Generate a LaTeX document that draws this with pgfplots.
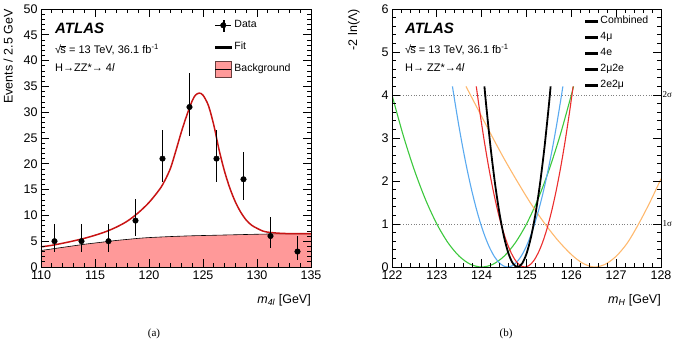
\documentclass[border=0pt]{standalone}
\usepackage{fontspec}
\setmainfont{Liberation Sans}
\newfontfamily\serif{Liberation Serif}
\usepackage{pgfplots}
\pgfplotsset{compat=1.18}
\definecolor{bkg}{RGB}{255,153,153}
\definecolor{fitred}{RGB}{200,20,20}
\definecolor{cblue}{RGB}{90,170,240}
\definecolor{cgreen}{RGB}{60,200,60}
\definecolor{corange}{RGB}{255,185,110}
\definecolor{cred}{RGB}{235,45,45}
\pgfplotsset{atlas/.style={
  scale only axis, anchor=south west,
  tick align=inside, major tick length=8pt, minor tick length=4pt,
  every tick/.append style={black, line width=0.7pt},
  axis line style={line width=0.9pt},
  tick label style={font=\fontsize{12.5}{14}\selectfont},
  /pgf/number format/assume math mode=true,
  label style={font=\fontsize{12.5}{14}\selectfont, inner sep=0pt},
  axis on top, clip mode=individual,
  legend cell align=left,
}}
\begin{document}
\begin{tikzpicture}
\path[use as bounding box] (0pt,0pt) rectangle (673pt,343pt);
% ---------------- (a) ----------------
\begin{axis}[atlas, at={(41pt,76pt)}, width=270pt, height=258pt,
  xmin=110, xmax=135, ymin=0, ymax=50,
  xtick={110,115,...,135}, ytick={0,5,...,50},
  minor x tick num=4, minor y tick num=4,
  xlabel={\textit{m}\textsubscript{\textit{4l}} [GeV]},
  ylabel={Events / 2.5 GeV},
  xlabel style={at={(rel axis cs:1,-0.105)}, anchor=north east},
  ylabel style={at={(rel axis cs:-0.104,1)}, anchor=south east},
  legend style={at={(rel axis cs:0.644,0.957)}, anchor=north west, draw=none, fill=none,
    font=\fontsize{10.5}{12}\selectfont, row sep=12pt, column sep=3pt, inner sep=0pt,
    nodes={inner sep=0pt, text height=7.5pt, text depth=2.5pt}},
]
\addplot[fill=bkg, draw=none, forget plot] coordinates {
(110,3.2) (111,3.5) (112,3.8) (113,4.1) (114,4.4) (115,4.65) (116,4.9) (117,5.15)
(118,5.35) (119,5.55) (120,5.7) (122,5.9) (124,6.05) (126,6.15) (128,6.25)
(130,6.35) (132,6.42) (135,6.45)} \closedcycle;
\addplot[black, line width=0.6pt, smooth, forget plot] coordinates {
(110,3.2) (111,3.5) (112,3.8) (113,4.1) (114,4.4) (115,4.65) (116,4.9) (117,5.15)
(118,5.35) (119,5.55) (120,5.7) (122,5.9) (124,6.05) (126,6.15) (128,6.25)
(130,6.35) (132,6.42) (135,6.45)};
\addplot[fitred, line width=1.5pt, smooth, forget plot] coordinates {
(110,3.9) (111,4.2) (112,4.6) (113,5.05) (114,5.55) (115,6.15) (116,6.85) (117,7.75)
(118,8.9) (119,10.5) (120,12.5) (121,15.1) (121.5,16.9) (122,19.2) (122.5,22.6)
(123,26.2) (123.5,29.4) (124,32.2) (124.3,33.3) (124.65,33.7) (125,33.3) (125.5,31.3)
(126,27.5) (126.5,22.6) (127,18.5) (127.5,15.2) (128,12.6) (128.5,10.6) (129,9.1)
(129.5,8.1) (130,7.5) (130.5,7.0) (131,6.75) (132,6.55) (133,6.47) (134,6.45) (135,6.45)};
\addplot[black, only marks, mark=*, mark size=2.8pt, forget plot,
  error bars/.cd, y dir=both, y explicit, error mark=none,
  error bar style={line width=1.1pt}] coordinates {
(111.25,5) += (0,3.38) -= (0,2.16)
(113.75,5) += (0,3.38) -= (0,2.16)
(116.25,5) += (0,3.38) -= (0,2.16)
(118.75,9) += (0,4.11) -= (0,2.94)
(121.25,21) += (0,5.62) -= (0,4.55)
(123.75,31) += (0,6.6) -= (0,5.54)
(126.25,21) += (0,5.62) -= (0,4.55)
(128.75,17) += (0,5.2) -= (0,4.1)
(131.25,6) += (0,3.62) -= (0,2.38)
(133.75,3) += (0,2.92) -= (0,1.63)};
\addlegendimage{legend image code/.code={
  \fill[overlay, fill=black] (7.45pt,-5.5pt) rectangle (8.55pt,5.5pt);
  \fill[overlay, fill=black] (8pt,0pt) circle (2.8pt);
  \path (0pt,0pt) -- (16pt,0pt);}}
\addlegendentry{Data}
\addlegendimage{legend image code/.code={
  \fill[overlay, fill=fitred] (0pt,-0.75pt) rectangle (16pt,0.75pt);
  \path (0pt,0pt) -- (16pt,0pt);}}
\addlegendentry{Fit}
\addlegendimage{legend image code/.code={
  \draw[overlay, fill=bkg, draw=black!60!bkg, line width=0.8pt] (0pt,-8pt) rectangle (16pt,8pt);
  \path (0pt,0pt) -- (16pt,0pt);}}
\addlegendentry{Background}
\node[anchor=west, inner sep=0pt, font=\bfseries\itshape\fontsize{15}{17}\selectfont] at (rel axis cs:0.052,0.926) {ATLAS};
\node[anchor=west, inner sep=0pt, font=\fontsize{11}{13}\selectfont] at (rel axis cs:0.052,0.841) {√\kern-0.8pt$\overline{\mbox{s}}$ = 13 TeV, 36.1 fb\textsuperscript{-1}};
\node[anchor=west, inner sep=0pt, font=\fontsize{11}{13}\selectfont] at (rel axis cs:0.052,0.775) {H→ZZ*→ 4\textit{l}};
\end{axis}
% ---------------- (b) ----------------
\begin{axis}[atlas, at={(392pt,76pt)}, width=269pt, height=258pt,
  xmin=122, xmax=128, ymin=0, ymax=6,
  xtick={122,...,128}, ytick={0,...,6},
  minor x tick num=4, minor y tick num=4,
  xlabel={\textit{m}\textsubscript{\textit{H}} [GeV]},
  ylabel={-2 ln(Λ)},
  xlabel style={at={(rel axis cs:1,-0.105)}, anchor=north east},
  ylabel style={at={(rel axis cs:-0.119,1)}, anchor=south east},
  legend style={at={(rel axis cs:0.717,0.973)}, anchor=north west, draw=none, fill=none,
    font=\fontsize{10.5}{12}\selectfont, row sep=6pt, column sep=3pt, inner sep=0pt,
    nodes={inner sep=0pt, text height=7.5pt, text depth=2.5pt}},
]
\addplot[gray, dotted, line width=0.7pt, forget plot] coordinates {(122,1) (128,1)};
\addplot[gray, dotted, line width=0.7pt, forget plot] coordinates {(122,4) (128,4)};
% 4e
\addplot[cgreen, line width=1.1pt, smooth, forget plot] coordinates {
(122,4) (122.25,3.0625) (122.5,2.25) (122.75,1.5625) (123,1) (123.25,0.5625) (123.5,0.25)
(123.75,0.0625) (124,0) (124.25,0.0625) (124.5,0.25) (124.75,0.5625) (125,1)
(125.25,1.5625) (125.5,2.25) (125.75,3.0625) (126,4) (126.049,4.2)};
% 2mu2e
\addplot[corange, line width=1.1pt, smooth, forget plot] coordinates {
(123.65,4.2) (123.9,3.70) (124.2,3.10) (124.5,2.52) (124.8,1.98) (125.1,1.47) (125.4,1.02)
(125.7,0.62) (126.0,0.29) (126.25,0.09) (126.5,0) (126.75,0.06) (127,0.25) (127.25,0.56)
(127.5,1.0) (127.75,1.5) (128,2.05)};
% 4mu
\addplot[cblue, line width=1.1pt, smooth, forget plot] coordinates {
(123.349,4.2) (123.38,3.989) (123.48,3.352) (123.58,2.77) (123.68,2.244) (123.78,1.773)
(123.88,1.357) (123.98,0.997) (124.08,0.693) (124.18,0.443) (124.28,0.249) (124.38,0.111)
(124.48,0.028) (124.58,0) (124.68,0.028) (124.78,0.111) (124.88,0.249) (124.98,0.443)
(125.08,0.693) (125.18,0.997) (125.28,1.357) (125.38,1.773) (125.48,2.244) (125.58,2.77)
(125.68,3.352) (125.78,3.989) (125.811,4.2)};
% 2e2mu
\addplot[cred, line width=1.1pt, smooth, forget plot] coordinates {
(123.88,4.2) (123.96,3.6) (124.06,2.916) (124.16,2.304) (124.26,1.764) (124.36,1.296)
(124.46,0.9) (124.56,0.576) (124.66,0.324) (124.76,0.144) (124.86,0.036) (124.96,0)
(125.06,0.036) (125.16,0.144) (125.26,0.324) (125.36,0.576) (125.46,0.9) (125.56,1.296)
(125.66,1.764) (125.76,2.304) (125.86,2.916) (125.96,3.6) (126.04,4.2)};
% combined
\addplot[black, line width=1.8pt, smooth, forget plot] coordinates {
(124.062,4.2) (124.1,3.773) (124.2,2.772) (124.3,1.925) (124.4,1.232) (124.5,0.693)
(124.6,0.308) (124.7,0.077) (124.8,0) (124.9,0.077) (125.0,0.308) (125.1,0.693)
(125.2,1.232) (125.3,1.925) (125.4,2.772) (125.5,3.773) (125.538,4.2)};
\addlegendimage{legend image code/.code={\fill[overlay, fill=black] (0pt,-0.9pt) rectangle (12pt,0.9pt); \path (0pt,0pt) -- (12pt,0pt);}}
\addlegendentry{Combined}
\addlegendimage{legend image code/.code={\fill[overlay, fill=cblue] (0pt,-0.6pt) rectangle (12pt,0.6pt); \path (0pt,0pt) -- (12pt,0pt);}}
\addlegendentry{4μ}
\addlegendimage{legend image code/.code={\fill[overlay, fill=cgreen] (0pt,-0.6pt) rectangle (12pt,0.6pt); \path (0pt,0pt) -- (12pt,0pt);}}
\addlegendentry{4e}
\addlegendimage{legend image code/.code={\fill[overlay, fill=corange] (0pt,-0.6pt) rectangle (12pt,0.6pt); \path (0pt,0pt) -- (12pt,0pt);}}
\addlegendentry{2μ2e}
\addlegendimage{legend image code/.code={\fill[overlay, fill=cred] (0pt,-0.6pt) rectangle (12pt,0.6pt); \path (0pt,0pt) -- (12pt,0pt);}}
\addlegendentry{2e2μ}
\node[anchor=west, inner sep=0pt, font=\bfseries\itshape\fontsize{15}{17}\selectfont] at (rel axis cs:0.048,0.926) {ATLAS};
\node[anchor=west, inner sep=0pt, font=\fontsize{11}{13}\selectfont] at (rel axis cs:0.048,0.841) {√\kern-0.8pt$\overline{\mbox{s}}$ = 13 TeV, 36.1 fb\textsuperscript{-1}};
\node[anchor=west, inner sep=0pt, font=\fontsize{11}{13}\selectfont] at (rel axis cs:0.048,0.775) {H→ ZZ*→4\textit{l}};
\node[anchor=west, inner sep=1.5pt, font=\serif\fontsize{9}{10}\selectfont] at (axis cs:128,4) {2σ};
\node[anchor=west, inner sep=1.5pt, font=\serif\fontsize{9}{10}\selectfont] at (axis cs:128,1) {1σ};
\end{axis}
\node[font=\serif\fontsize{11}{13}\selectfont] at (154pt,9pt) {(a)};
\node[font=\serif\fontsize{11}{13}\selectfont] at (506pt,9pt) {(b)};
\end{tikzpicture}
\end{document}
